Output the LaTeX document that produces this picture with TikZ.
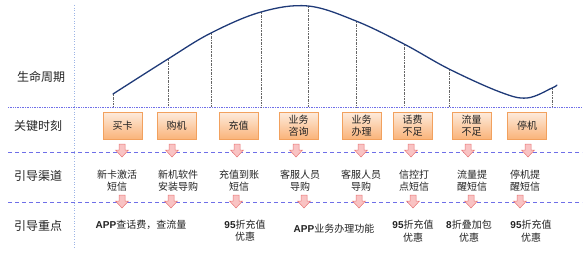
\documentclass[tikz,border=0pt]{standalone}
\usepackage{fontspec}
\setmainfont{Noto Sans CJK SC}
\newfontfamily\latinb{Liberation Sans}
\usetikzlibrary{shadows}
\definecolor{curvec}{HTML}{1F3A78}
\definecolor{hline}{HTML}{6F6FE8}
\definecolor{vline}{HTML}{9DB5E6}
\definecolor{boxdraw}{HTML}{F2A15E}
\definecolor{boxtop}{HTML}{FDEBDD}
\definecolor{boxbot}{HTML}{FAB47A}
\definecolor{arrdraw}{HTML}{E87575}
\definecolor{arrfill}{HTML}{F9C3C3}
\definecolor{txt}{HTML}{222222}
\newcommand{\bl}[1]{{\latinb\bfseries #1}}
\tikzset{
  rowlabel/.style={font=\fontsize{12}{14}\selectfont, text=txt, inner sep=0pt},
  keybox/.style={draw=boxdraw, line width=0.6pt, top color=boxtop, bottom color=boxbot,
     minimum width=39pt, minimum height=27pt, inner sep=0pt, align=center,
     font=\fontsize{10}{12.5}\selectfont, text=txt,
     drop shadow={shadow xshift=0.8pt, shadow yshift=-0.8pt, opacity=0.25}},
  content/.style={font=\fontsize{10}{12.5}\selectfont, text=txt, align=center, inner sep=0pt},
  dropline/.style={gray!80!black, line width=0.4pt, dash pattern=on 2pt off 1pt on 0.5pt off 1pt},
  darr/.pic={\draw[draw=arrdraw, fill=arrfill, line width=0.5pt, line join=miter]
     (-3,-7)--(3,-7)--(3,-1)--(6.5,-1)--(0,6)--(-6.5,-1)--(-3,-1)--cycle;}
}
\begin{document}
\begin{tikzpicture}[x=1pt,y=-1pt]
\useasboundingbox (0,0) rectangle (588,259);
% grid lines
\draw[vline, line width=0.6pt, dotted] (74,5) -- (74,248);
\draw[hline, line width=0.7pt, densely dotted] (8,107) -- (582,107);
\draw[hline, line width=0.7pt, dash pattern=on 4pt off 3pt] (8,152) -- (582,152);
\draw[hline, line width=0.7pt, dash pattern=on 4pt off 3pt] (8,202) -- (582,202);
% curve points
\coordinate (c1) at (113,94);
\coordinate (c2) at (168,59);
\coordinate (c3) at (211,33);
\coordinate (c4) at (261,12);
\coordinate (c5) at (308,6);
\coordinate (c6) at (356,21);
\coordinate (c7) at (404,44);
\coordinate (c8) at (449,69);
\coordinate (c9) at (552,88);
\coordinate (base) at (0,107);
\foreach \c in {c1,c2,c3,c4,c5,c6,c7,c8,c9}
  \draw[dropline] (\c) -- (\c |- base);
\draw[curvec, line width=1.3pt, line cap=round] plot[smooth, tension=0.6] coordinates
  {(113,94) (168,59) (211,33) (261,12) (308,6) (356,21) (404,44) (449,69) (500,92) (527,98) (552,88) (557,85)};
% row labels
\node[rowlabel] (l1) at (41,77) {生命周期};
\node[rowlabel] (l2) at (38,126) {关键时刻};
\node[rowlabel] (l3) at (38,176) {引导渠道};
\node[rowlabel] (l4) at (38,226) {引导重点};
% key boxes
\node[keybox] (b1) at (122.5,125.5) {买卡};
\node[keybox] (b2) at (176.5,125.5) {购机};
\node[keybox] (b3) at (238.5,125.5) {充值};
\node[keybox] (b4) at (298.5,125.5) {业务\\咨询};
\node[keybox] (b5) at (361.5,125.5) {业务\\办理};
\node[keybox] (b6) at (412.5,125.5) {话费\\不足};
\node[keybox] (b7) at (471.5,125.5) {流量\\不足};
\node[keybox] (b8) at (527,125.5) {停机};
% upper arrows
\foreach \x in {122,172,237,296,361,411,468,528}
  \pic at (\x,151) {darr};
% channels
\node[content] (t1) at (117,180.5) {新卡激活\\短信};
\node[content] (t2) at (178,180.5) {新机软件\\安装导购};
\node[content] (t3) at (239,180.5) {充值到账\\短信};
\node[content] (t4) at (300,180.5) {客服人员\\导购};
\node[content] (t5) at (361,180.5) {客服人员\\导购};
\node[content] (t6) at (414,180.5) {信控打\\点短信};
\node[content] (t7) at (472,180.5) {流量提\\醒短信};
\node[content] (t8) at (525,180.5) {停机提\\醒短信};
% lower arrows
\foreach \x in {122,171,236,304,359,413,471,520}
  \pic at (\x,202) {darr};
% focus
\node[content] (f1) at (141,225) {\bl{APP}查话费，查流量};
\node[content] (f2) at (245,230.5) {\bl{95}折充值\\优惠};
\node[content] (f3) at (334,229) {\bl{APP}业务办理功能};
\node[content] (f4) at (413,231) {\bl{95}折充值\\优惠};
\node[content] (f5) at (469,231) {\bl{8}折叠加包\\优惠};
\node[content] (f6) at (531,231) {\bl{95}折充值\\优惠};
\end{tikzpicture}
\end{document}
